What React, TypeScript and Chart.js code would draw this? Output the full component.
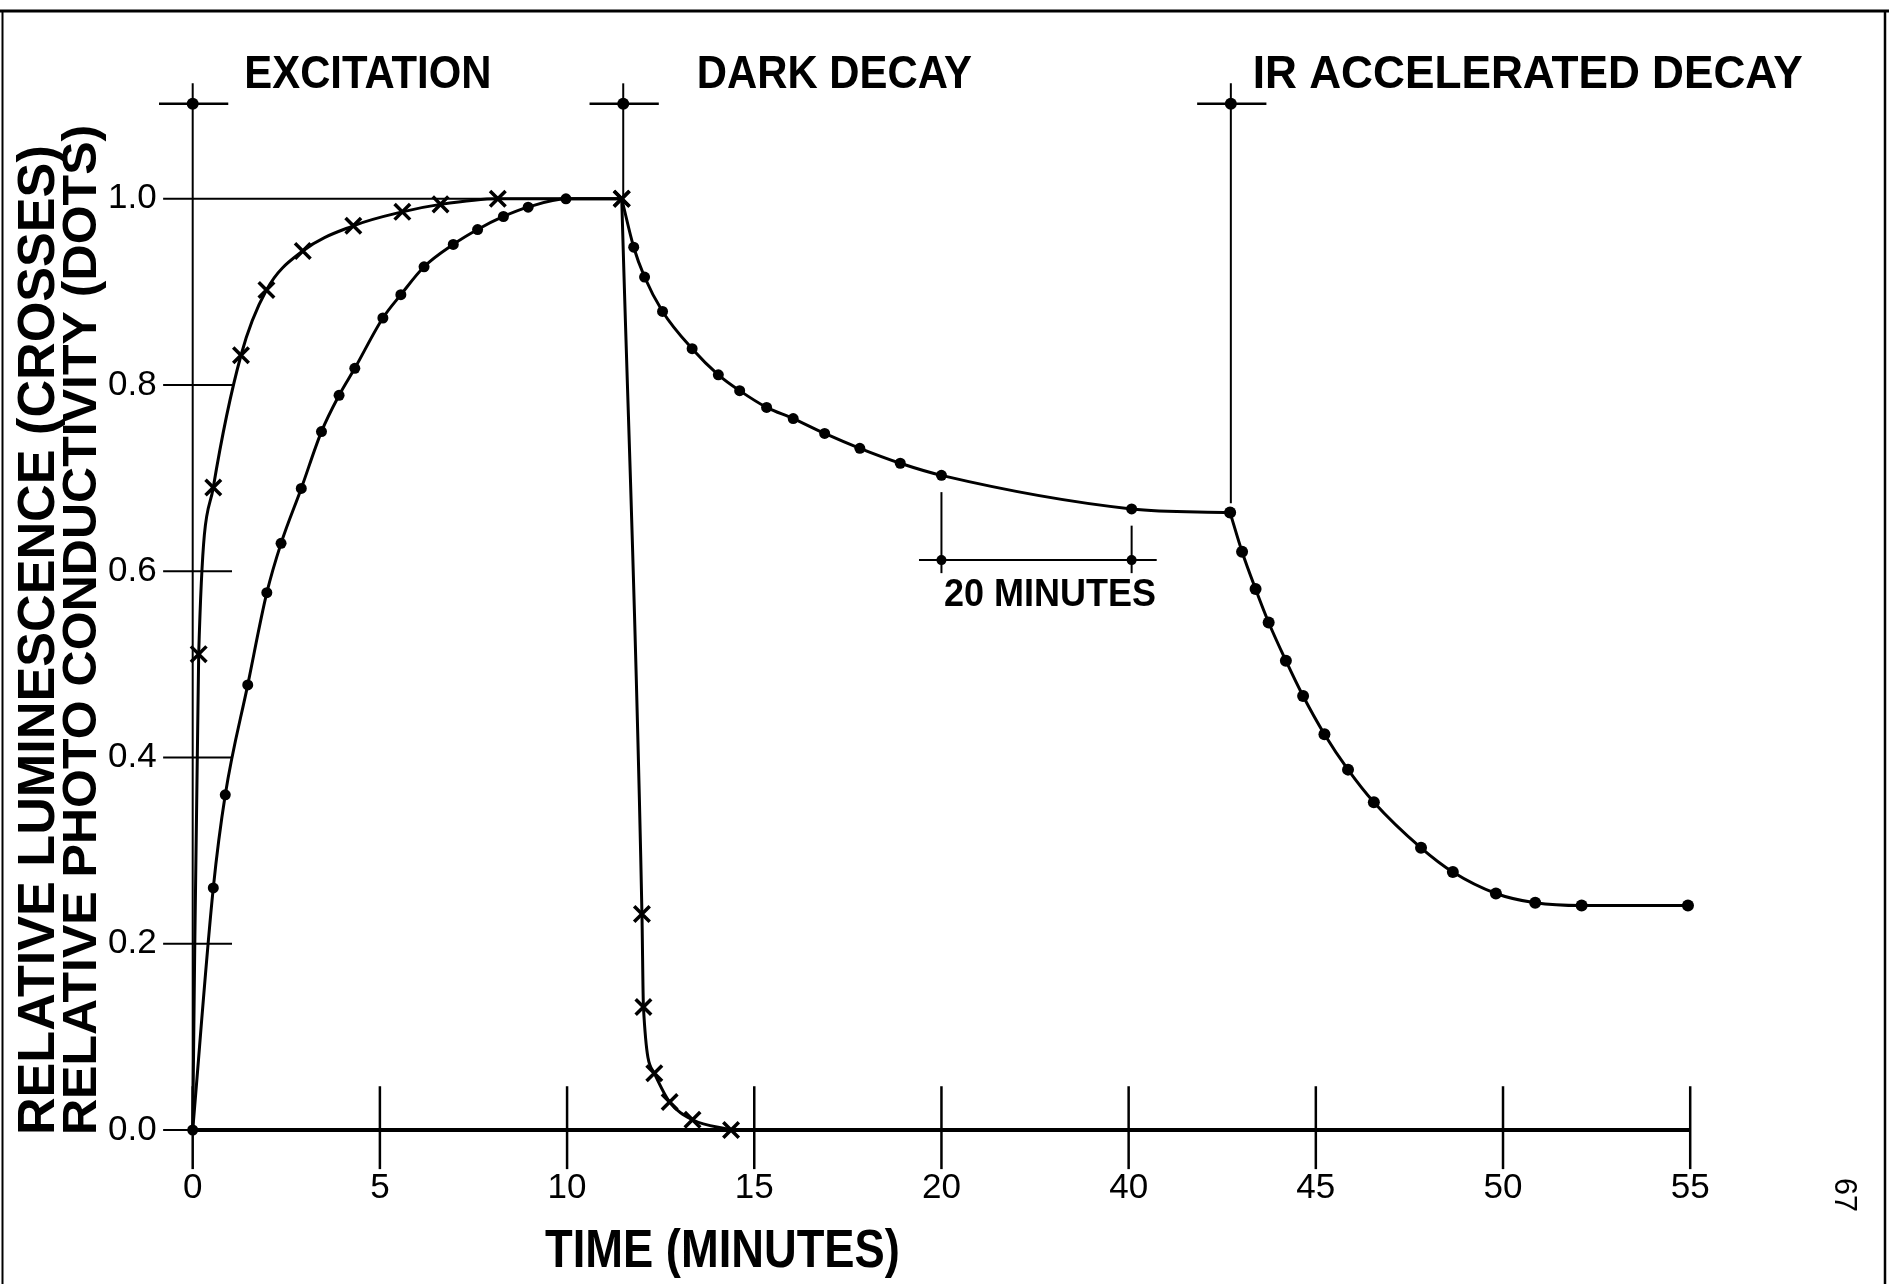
import React, { useEffect, useRef } from "react";
import { Chart, registerables } from "chart.js";

Chart.register(...registerables);

// ---- Axis definitions (x is a broken time axis: 20 -> 40 compressed) ----
const X_TICK_POS = [0, 5, 10, 15, 20, 25, 30, 35, 40];
const X_TICK_LABELS = ["0", "5", "10", "15", "20", "40", "45", "50", "55"];
const Y_TICKS = [0, 0.2, 0.4, 0.6, 0.8, 1.0];
const Y_TICK_LABELS = ["0.0", "0.2", "0.4", "0.6", "0.8", "1.0"];

// ---- Luminescence (crosses) ----
const LUM_EXC_X = [0, 0.16, 0.55, 1.29, 1.97, 2.94, 4.29, 5.6, 6.62, 8.15, 11.46];
const LUM_EXC_Y = [0, 0.511, 0.69, 0.832, 0.902, 0.944, 0.971, 0.986, 0.994, 1.0, 1.0];
const LUM_DECAY_X = [11.46, 12.0, 12.04, 12.33, 12.74, 13.35, 14.38];
const LUM_DECAY_Y = [1.0, 0.232, 0.132, 0.061, 0.03, 0.011, 0.0];

// ---- Photoconductivity (dots) ----
const PC_EXC_X = [0, 0.55, 0.87, 1.47, 1.98, 2.36, 2.9, 3.44, 3.91, 4.33, 5.08, 5.56, 6.18, 6.96, 7.61, 8.3, 8.96, 9.97, 11.46];
const PC_EXC_Y = [0, 0.26, 0.36, 0.478, 0.577, 0.63, 0.689, 0.75, 0.789, 0.818, 0.872, 0.897, 0.927, 0.951, 0.967, 0.981, 0.991, 1.0, 1.0];
const PC_DARK_X = [11.46, 11.78, 12.07, 12.55, 13.34, 14.04, 14.61, 15.33, 16.04, 16.88, 17.82, 18.9, 20.0, 25.08, 27.71];
const PC_DARK_Y = [1.0, 0.948, 0.916, 0.879, 0.839, 0.811, 0.794, 0.776, 0.764, 0.748, 0.732, 0.716, 0.703, 0.667, 0.663];
const PC_IR_X = [27.71, 28.03, 28.39, 28.74, 29.2, 29.66, 30.23, 30.86, 31.55, 32.81, 33.66, 34.81, 35.86, 37.1, 39.94];
const PC_IR_Y = [0.663, 0.621, 0.581, 0.545, 0.504, 0.466, 0.425, 0.387, 0.352, 0.303, 0.277, 0.254, 0.244, 0.241, 0.241];

// ---- Phase markers & annotations ----
const PHASE_MARKER_X = [0, 11.5, 27.73];
const PHASE_LINE_BOTTOM = [0, 1.0, 0.673];
const PHASE_LABELS = ["EXCITATION", "DARK DECAY", "IR ACCELERATED DECAY"];
const PHASE_LABEL_X = [4.68, 17.14, 35.66];
const PHASE_LABEL_W = [6.6, 7.35, 14.69];
const BRACKET_X = [20.0, 25.08];
const BRACKET_LABEL = "20 MINUTES";

const Y_MAX = 1.125;
const AXIS_TOP = 1.124;
const MARKER_Y = 1.102;

const FONT = '"Liberation Sans", Arial, sans-serif';

const pts = (xs: number[], ys: number[]) => xs.map((x, i) => ({ x, y: ys[i] }));

function fitText(ctx: CanvasRenderingContext2D, text: string, cx: number, cy: number, width: number, size: number, rot = 0, weight = "bold") {
  ctx.save();
  ctx.translate(cx, cy);
  ctx.rotate(rot);
  ctx.font = `${weight} ${size}px ${FONT}`;
  const m = ctx.measureText(text).width;
  ctx.scale(width / m, 1);
  ctx.textAlign = "center";
  ctx.textBaseline = "alphabetic";
  ctx.fillStyle = "#000";
  ctx.fillText(text, 0, size * 0.358);
  ctx.restore();
}

const annotationPlugin = {
  id: "annotations",
  beforeDatasetsDraw(chart: any) {
    const ctx: CanvasRenderingContext2D = chart.ctx;
    const xs = chart.scales.x;
    const ys = chart.scales.y;
    const X = (u: number) => xs.getPixelForValue(u);
    const Y = (v: number) => ys.getPixelForValue(v);
    const line = (x1: number, y1: number, x2: number, y2: number, w: number) => {
      ctx.lineWidth = w;
      ctx.beginPath();
      ctx.moveTo(x1, y1);
      ctx.lineTo(x2, y2);
      ctx.stroke();
    };
    const dot = (x: number, y: number, r: number) => {
      ctx.beginPath();
      ctx.arc(x, y, r, 0, Math.PI * 2);
      ctx.fill();
    };
    ctx.save();
    ctx.strokeStyle = "#000";
    ctx.fillStyle = "#000";

    // page frame of the scanned figure
    const W = chart.width;
    const H = chart.height;
    line(0, 11, W, 11, 3);
    line(2.5, 11, 2.5, H, 2);
    line(W - 4, 11, W - 4, H, 2.5);

    // axes
    line(X(0), Y(0), X(0), Y(AXIS_TOP), 2);
    line(X(0), Y(0), X(40), Y(0), 4);
    line(X(-0.79), Y(0), X(0), Y(0), 2);
    // y ticks crossing the axis
    Y_TICKS.forEach((v) => {
      if (v > 0 && v < 1) line(X(-0.79), Y(v), X(1.05), Y(v), 2);
    });
    // reference line at 1.0
    line(X(-0.79), Y(1), X(11.46), Y(1), 2);
    // x ticks crossing the axis
    X_TICK_POS.forEach((u) => line(X(u), Y(-0.042), X(u), Y(0.047), 2.5));

    // phase markers
    PHASE_MARKER_X.forEach((u, i) => {
      line(X(u - 0.9), Y(MARKER_Y), X(u + 0.95), Y(MARKER_Y), 2.5);
      if (i > 0) line(X(u), Y(AXIS_TOP), X(u), Y(PHASE_LINE_BOTTOM[i]), 2);
      dot(X(u), Y(MARKER_Y), 6);
    });

    // 20 minutes bracket
    line(X(BRACKET_X[0]), Y(0.685), X(BRACKET_X[0]), Y(0.598), 2);
    line(X(BRACKET_X[1]), Y(0.649), X(BRACKET_X[1]), Y(0.598), 2);
    line(X(BRACKET_X[0] - 0.6), Y(0.612), X(BRACKET_X[1] + 0.67), Y(0.612), 2);
    dot(X(BRACKET_X[0]), Y(0.612), 5);
    dot(X(BRACKET_X[1]), Y(0.612), 5);

    ctx.restore();
  },
  afterDraw(chart: any) {
    const ctx: CanvasRenderingContext2D = chart.ctx;
    const xs = chart.scales.x;
    const ys = chart.scales.y;
    const X = (u: number) => xs.getPixelForValue(u);
    const Y = (v: number) => ys.getPixelForValue(v);
    const ux = X(1) - X(0);
    const vy = Y(0) - Y(1);

    PHASE_LABELS.forEach((t, i) => fitText(ctx, t, X(PHASE_LABEL_X[i]), Y(1.137), PHASE_LABEL_W[i] * ux, 47));
    fitText(ctx, BRACKET_LABEL, X(22.9), Y(0.578), 5.66 * ux, 39);
    fitText(ctx, "TIME (MINUTES)", X(14.15), Y(-0.1267), 9.48 * ux, 54);
    fitText(ctx, "RELATIVE LUMINESCENCE (CROSSES)", X(-4.2), Y(0.526), 1.063 * vy, 52, -Math.PI / 2);
    fitText(ctx, "RELATIVE PHOTO CONDUCTIVITY (DOTS)", X(-3.05), Y(0.537), 1.085 * vy, 48, -Math.PI / 2);
    fitText(ctx, "67", X(44.17), Y(-0.0698), 0.908 * ux, 32, Math.PI / 2, "normal");
  },
};

export default function App() {
  const ref = useRef<HTMLCanvasElement | null>(null);

  useEffect(() => {
    if (!ref.current) return;
    const dotRadius = (n: number, skipFirst: boolean, skipLast: boolean) => (c: any) =>
      (skipFirst && c.dataIndex === 0) || (skipLast && c.dataIndex === n - 1) ? 0 : 5.5;
    const crossRadius = (skipFirst: boolean) => (c: any) => (skipFirst && c.dataIndex === 0 ? 0 : 11);

    const lineBase = {
      borderColor: "#000",
      backgroundColor: "#000",
      borderWidth: 3,
      cubicInterpolationMode: "monotone" as const,
      fill: false,
      clip: false as any,
      pointBorderColor: "#000",
      pointBackgroundColor: "#000",
    };

    const chart = new Chart(ref.current, {
      type: "line",
      data: {
        datasets: [
          { ...lineBase, label: "Luminescence excitation", data: pts(LUM_EXC_X, LUM_EXC_Y), pointStyle: "crossRot", pointRadius: crossRadius(true), pointBorderWidth: 3.5 },
          { ...lineBase, label: "Luminescence decay", data: pts(LUM_DECAY_X, LUM_DECAY_Y), pointStyle: "crossRot", pointRadius: crossRadius(false), pointBorderWidth: 3.5 },
          { ...lineBase, label: "Photoconductivity excitation", data: pts(PC_EXC_X, PC_EXC_Y), pointStyle: "circle", pointRadius: dotRadius(PC_EXC_X.length, false, true), pointBorderWidth: 0 },
          { ...lineBase, label: "Photoconductivity dark decay", data: pts(PC_DARK_X, PC_DARK_Y), pointStyle: "circle", pointRadius: dotRadius(PC_DARK_X.length, true, false), pointBorderWidth: 0 },
          { ...lineBase, label: "Photoconductivity IR decay", data: pts(PC_IR_X, PC_IR_Y), pointStyle: "circle", pointRadius: 6, pointBorderWidth: 0 },
        ],
      },
      options: {
        responsive: false,
        animation: false,
        events: [],
        layout: { padding: { left: 0, top: 82.4, right: 198.8, bottom: 0 } },
        plugins: { legend: { display: false }, tooltip: { enabled: false }, title: { display: false } },
        scales: {
          x: {
            type: "linear",
            min: 0,
            max: 40,
            afterBuildTicks: (s: any) => {
              s.ticks = X_TICK_POS.map((v) => ({ value: v }));
            },
            afterFit: (s: any) => {
              s.height = 154;
            },
            grid: { display: false, drawTicks: false },
            border: { display: false },
            ticks: {
              autoSkip: false,
              maxRotation: 0,
              minRotation: 0,
              padding: 37,
              color: "#000",
              font: { family: FONT, size: 35 },
              callback: (_v: any, i: number) => X_TICK_LABELS[i],
            },
          },
          y: {
            type: "linear",
            min: 0,
            max: Y_MAX,
            afterBuildTicks: (s: any) => {
              s.ticks = Y_TICKS.map((v) => ({ value: v }));
            },
            afterFit: (s: any) => {
              s.width = 192.7;
            },
            grid: { display: false, drawTicks: false },
            border: { display: false },
            ticks: {
              padding: 36,
              color: "#000",
              font: { family: FONT, size: 35 },
              callback: (_v: any, i: number) => Y_TICK_LABELS[i],
            },
          },
        },
      },
      plugins: [annotationPlugin],
    });
    return () => chart.destroy();
  }, []);

  return (
    <div style={{ position: "fixed", left: 0, top: 0, width: 1889, height: 1284, background: "#fff" }}>
      <canvas ref={ref} width={1889} height={1284} style={{ display: "block" }} />
    </div>
  );
}
